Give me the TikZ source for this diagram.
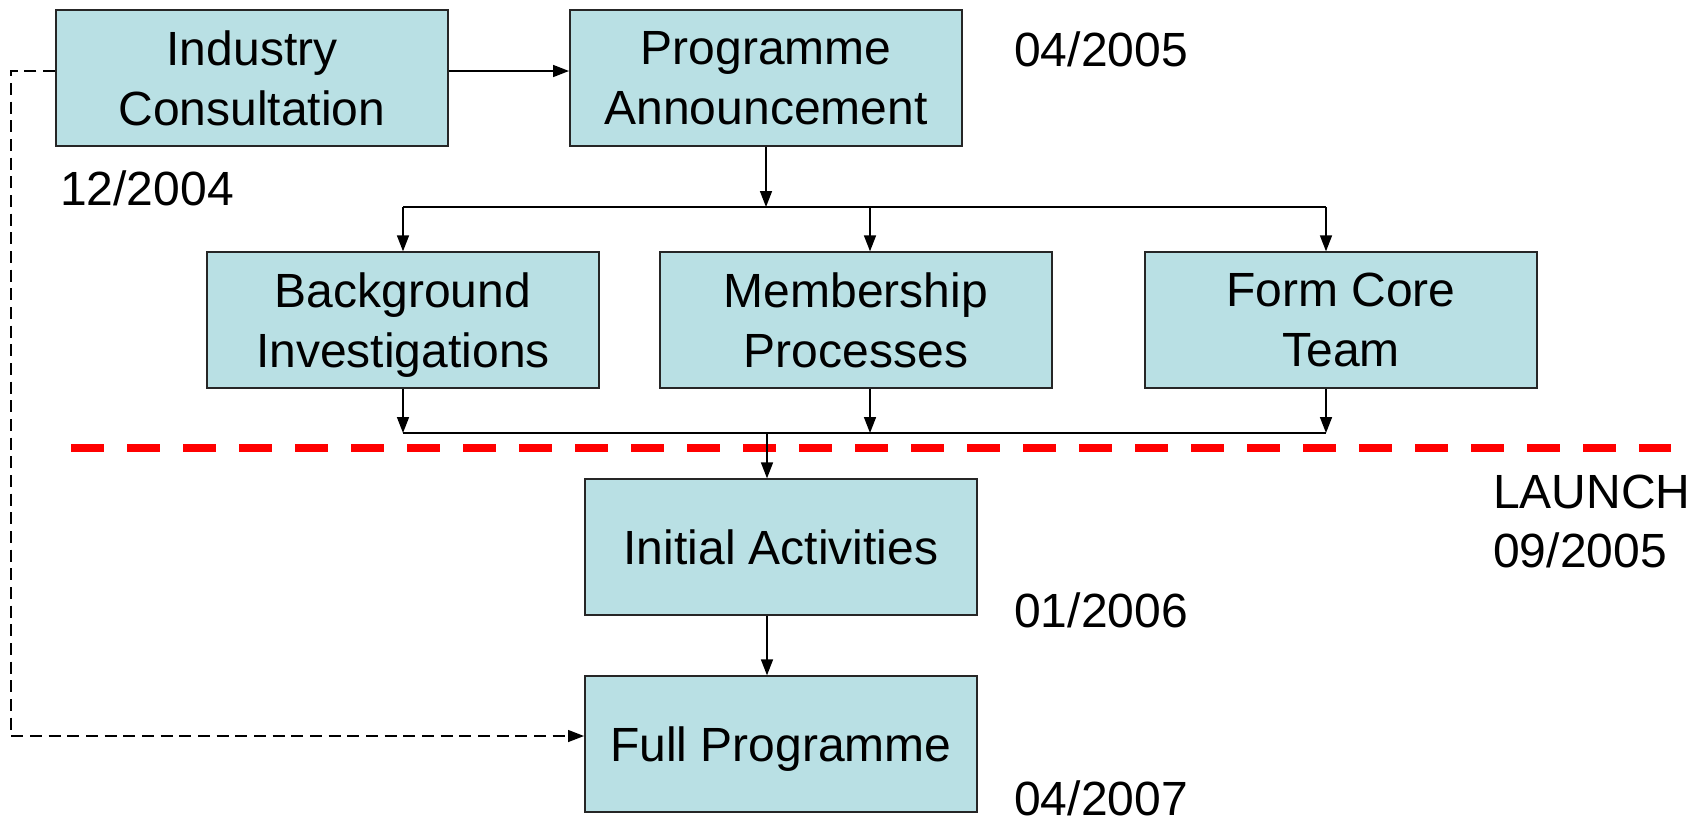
\documentclass[tikz,border=0pt]{standalone}
\usepackage{fontspec}
\setmainfont{Liberation Sans}
\usetikzlibrary{arrows.meta,calc}
\definecolor{boxfill}{RGB}{185,224,228}
\begin{document}
\begin{tikzpicture}[x=0.75pt,y=-0.75pt,
  font=\fontsize{36}{45}\selectfont,
  proc/.style={draw=black!85, line width=1.5pt, fill=boxfill, minimum width=294pt, minimum height=101.5pt, align=center, inner sep=0pt, text depth=0pt},
  conn/.style={line width=1.2pt, black},
  arr/.style={conn, -{Triangle[length=12pt,width=9pt]}},
  dasharr/.style={line width=1pt, black, dash pattern=on 9pt off 5pt, -{Triangle[length=12pt,width=9pt]}},
  launchline/.style={line width=6pt, red, dash pattern=on 25pt off 17pt},
  date/.style={anchor=base west, inner sep=0pt}]
\useasboundingbox (0,0) rectangle (1701,825);

% red launch line
\coordinate (r1) at (71,448);
\coordinate (r2) at (1671,448);
\draw[launchline] (r1) -- (r2);

% boxes
\node[proc] (ind)  at (252,78)  {Industry\\Consultation};
\node[proc] (prog) at (766,78)  {Programme\\Announcement};
\node[proc] (bg)   at (403,320) {Background\\Investigations};
\node[proc] (mem)  at (856,320) {Membership\\Processes};
\node[proc] (core) at (1341,320) {Form Core\\Team};
\node[proc] (init) at (781,547) {Initial Activities};
\node[proc] (full) at (781,744) {Full Programme};

% dates
\node[date] (d1) at (60,205) {12/2004};
\node[date] (d2) at (1014,66) {04/2005};
\node[date] (d3) at (1014,627) {01/2006};
\node[date] (d4) at (1014,815) {04/2007};
\node[date] (l1) at (1493,508) {LAUNCH};
\node[date] (l2) at (1493,567) {09/2005};

% helper coordinates
\coordinate (bus1) at (0,207);
\coordinate (bus2) at (0,433);
\coordinate (dl) at (11,0);
\coordinate (memIn) at ($(mem.north)+(14,0)$);
\coordinate (coreIn) at ($(core.north)+(-15,0)$);
\coordinate (memOut) at ($(mem.south)+(14,0)$);
\coordinate (coreOut) at ($(core.south)+(-15,0)$);
\coordinate (initIn) at ($(init.north)+(-14,0)$);
\coordinate (initOut) at ($(init.south)+(-14,0)$);
\coordinate (fullIn) at ($(full.north)+(-14,0)$);
\coordinate (indE) at ($(ind.east)+(0,-7)$);
\coordinate (progW) at ($(prog.west)+(0,-7)$);
\coordinate (indW) at ($(ind.west)+(0,-7)$);
\coordinate (fullW) at ($(full.west)+(0,-8)$);

% connectors
\draw[arr] (indE) -- (progW);
\draw[arr] (prog.south) -- (prog.south |- bus1);
\draw[conn] (bg.north |- bus1) -- (coreIn |- bus1);
\draw[arr] (bg.north |- bus1) -- (bg.north);
\draw[arr] (memIn |- bus1) -- (memIn);
\draw[arr] (coreIn |- bus1) -- (coreIn);

\draw[arr] (bg.south) -- (bg.south |- bus2);
\draw[arr] (memOut) -- (memOut |- bus2);
\draw[arr] (coreOut) -- (coreOut |- bus2);
\draw[conn] (bg.south |- bus2) -- (coreOut |- bus2);
\draw[arr] (initIn |- bus2) -- (initIn);
\draw[arr] (initOut) -- (fullIn);

\draw[dasharr] (indW) -- (dl |- indW) -- (dl |- fullW) -- (fullW);
\end{tikzpicture}
\end{document}
